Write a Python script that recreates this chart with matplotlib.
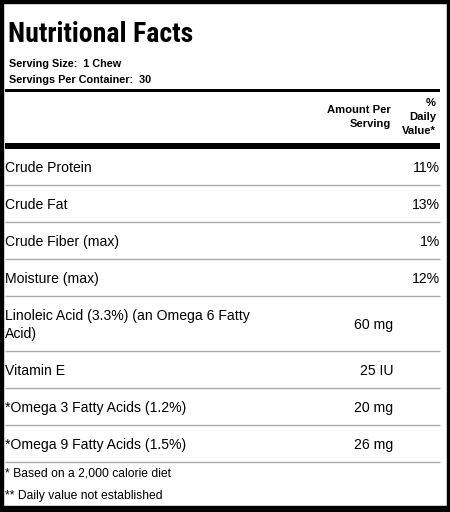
import matplotlib.pyplot as plt
from matplotlib.patches import Rectangle

plt.rcParams['font.family'] = ['Liberation Sans', 'DejaVu Sans']

# table content
title = "Nutritional Facts"
serving_size = "1 Chew"
servings_per_container = "30"
nutrients = [
    "Crude Protein",
    "Crude Fat",
    "Crude Fiber (max)",
    "Moisture (max)",
    "Linoleic Acid (3.3%) (an Omega 6 Fatty\nAcid)",
    "Vitamin E",
    "*Omega 3 Fatty Acids (1.2%)",
    "*Omega 9 Fatty Acids (1.5%)",
]
amounts = ["", "", "", "", "60 mg", "25 IU", "20 mg", "26 mg"]
daily_values = ["11%", "13%", "1%", "12%", "", "", "", ""]
footnotes = ["* Based on a 2,000 calorie diet", "** Daily value not established"]

W, H = 450, 512
fig = plt.figure(figsize=(W / 100, H / 100), dpi=100)
ax = fig.add_axes([0, 0, 1, 1])
ax.set_xlim(0, W)
ax.set_ylim(H, 0)
ax.axis('off')

# outer frame (left, top, right, bottom thickness in px)
ax.add_patch(Rectangle((0, 0), 2.5, H, color='black'))
ax.add_patch(Rectangle((0, 0), W, 2.5, color='black'))
ax.add_patch(Rectangle((W - 3, 0), 3, H, color='black'))
ax.add_patch(Rectangle((0, H - 6), W, 6, color='black'))

left, right = 5, 440
amt_x, dv_x = 391, 439
fs = 10.1

# title is set tight, so a condensed face gets the width right
ax.text(8, 34, title, fontsize=20, fontweight='bold', va='center', ha='left',
        family=['Roboto Condensed', 'Liberation Sans'])
ax.text(9, 64, "Serving Size:  " + serving_size, fontsize=7.8, fontweight='bold', va='center')
ax.text(9, 80, "Servings Per Container:  " + servings_per_container, fontsize=7.8,
        fontweight='bold', va='center')

ax.add_patch(Rectangle((left, 89), right - left, 3, color='black', lw=0))

ax.text(amt_x, 117, "Amount Per\nServing", fontsize=8.1, fontweight='bold',
        ha='right', va='center', linespacing=1.6)
ax.text(436, 117, "%\nDaily\nValue*", fontsize=8.1, fontweight='bold',
        ha='right', va='center', linespacing=1.56)

ax.add_patch(Rectangle((left, 143), right - left, 5.5, color='black', lw=0))

# rows
y = 148
single_h, line_h = 37, 18
for name, amt, dv in zip(nutrients, amounts, daily_values):
    n_lines = name.count("\n") + 1
    h = single_h + (n_lines - 1) * line_h
    cy = y + h / 2 + 1.5
    ax.text(5, cy, name, fontsize=fs, ha='left', va='center', linespacing=1.3)
    if amt:
        ax.text(amt_x + 2, cy, amt, fontsize=fs, ha='right', va='center')
    if dv:
        ax.text(dv_x + 1, cy, dv, fontsize=fs, ha='right', va='center')
    y += h
    ax.plot([left, right], [y, y], color='#aaaaaa', lw=1.0, solid_capstyle='butt')

for i, note in enumerate(footnotes):
    ax.text(5, y + 12 + i * 22, note, fontsize=8.7, ha='left', va='center')

fig.savefig('out.png', dpi=100)
